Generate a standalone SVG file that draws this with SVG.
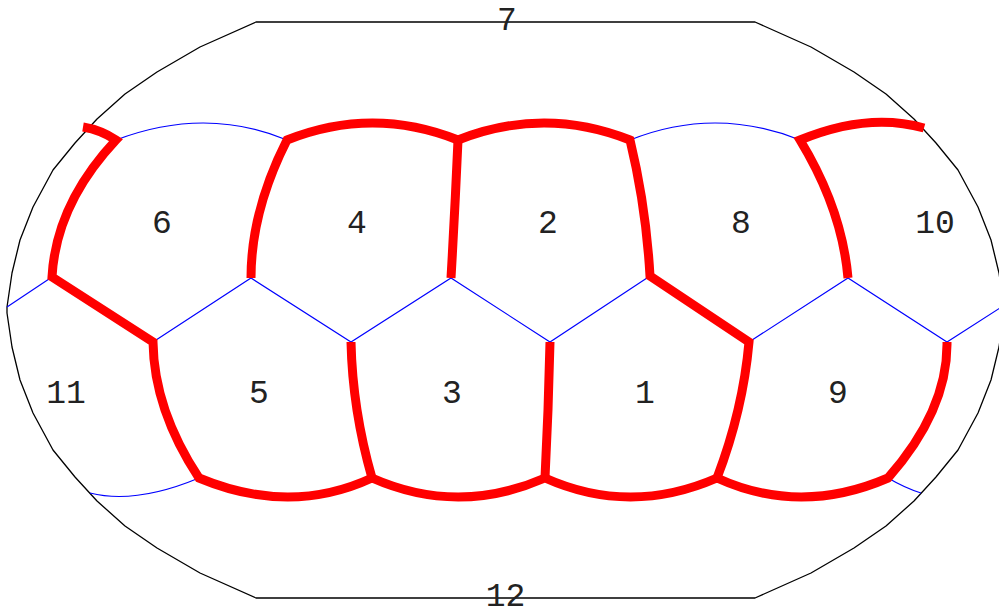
<svg xmlns="http://www.w3.org/2000/svg" width="999" height="613" viewBox="0 0 999 613">
<style>
.outline{fill:none;stroke:#000;stroke-width:1.3;stroke-linejoin:round}
.red{fill:none;stroke:#ff0000;stroke-width:9;stroke-linecap:butt;stroke-linejoin:miter;stroke-miterlimit:6}
.blue{fill:none;stroke:#0000ff;stroke-width:1.2}
.lbl{font-family:"Liberation Mono","Courier New",monospace;font-size:33px;fill:#222;text-anchor:middle}
</style>
<rect width="999" height="613" fill="#fff"/>
<g id="outline">
<path class="outline" d="M256,22 L755,22 L811,47 L854,72 L886,94 L914,119 L936,143 L958,170 L978,207 L991,240 L999,273 L1004,307 L1004,313 L999,347 L991,380 L978,413 L958,450 L936,477 L914,501 L886,526 L854,548 L811,573 L755,598 L256,598 L200,573 L157,548 L125,526 L97,501 L75,477 L53,450 L33,413 L20,380 L12,347 L7,313 L7,307 L12,273 L20,240 L33,207 L53,170 L75,143 L97,119 L125,94 L157,72 L200,47 Z"/>
</g>
<g id="connectors">
<g id="blue-edges">
<path class="blue" d="M7,307 L52,277"/>
<path class="blue" d="M153,342 L251,278 L351,342 L451,278 L550,342 L650,276"/>
<path class="blue" d="M749,342 L848,278 L947,342 L1000,308"/>
<path class="blue" d="M116,140 Q205,106 287,140"/>
<path class="blue" d="M630,140 Q715,106 800,140"/>
<path class="blue" d="M90,493 Q135.5,504.5 199,478"/>
<path class="blue" d="M888,478 Q905,488 921,493"/>
</g>
<g id="red-edges">
<path class="red" d="M83,127 Q101,130 116,140 Q56,204 52,277 L153,342 Q154,410 199,478 Q290,516 372,478 Q458,516 545,478 Q630,516 717,478 Q800,516 888,478 Q948,410 947,342"/>
<path class="red" d="M251,278 Q251,211 287,140 Q372.5,106 458,140 Q544,106 630,140 Q646,206 650,276 L749,342 Q743,410 717,478"/>
<path class="red" d="M458,140 Q455,209 451,278"/>
<path class="red" d="M848,278 Q842,209 800,140 Q868,112 924,128"/>
<path class="red" d="M351,342 Q352.5,410 372,478"/>
<path class="red" d="M550,342 Q548.5,410 545,478"/>
</g>
</g>
<g id="face-7"><text class="lbl" x="507" y="30">7</text></g>
<g id="face-6"><text class="lbl" x="162" y="233">6</text></g>
<g id="face-4"><text class="lbl" x="357" y="233">4</text></g>
<g id="face-2"><text class="lbl" x="548" y="233">2</text></g>
<g id="face-8"><text class="lbl" x="741" y="233">8</text></g>
<g id="face-10"><text class="lbl" x="935" y="233">10</text></g>
<g id="face-11"><text class="lbl" x="66" y="403">11</text></g>
<g id="face-5"><text class="lbl" x="259" y="403">5</text></g>
<g id="face-3"><text class="lbl" x="452" y="403">3</text></g>
<g id="face-1"><text class="lbl" x="645" y="403">1</text></g>
<g id="face-9"><text class="lbl" x="838" y="403">9</text></g>
<g id="face-12"><text class="lbl" x="505.5" y="606">12</text></g>
</svg>
